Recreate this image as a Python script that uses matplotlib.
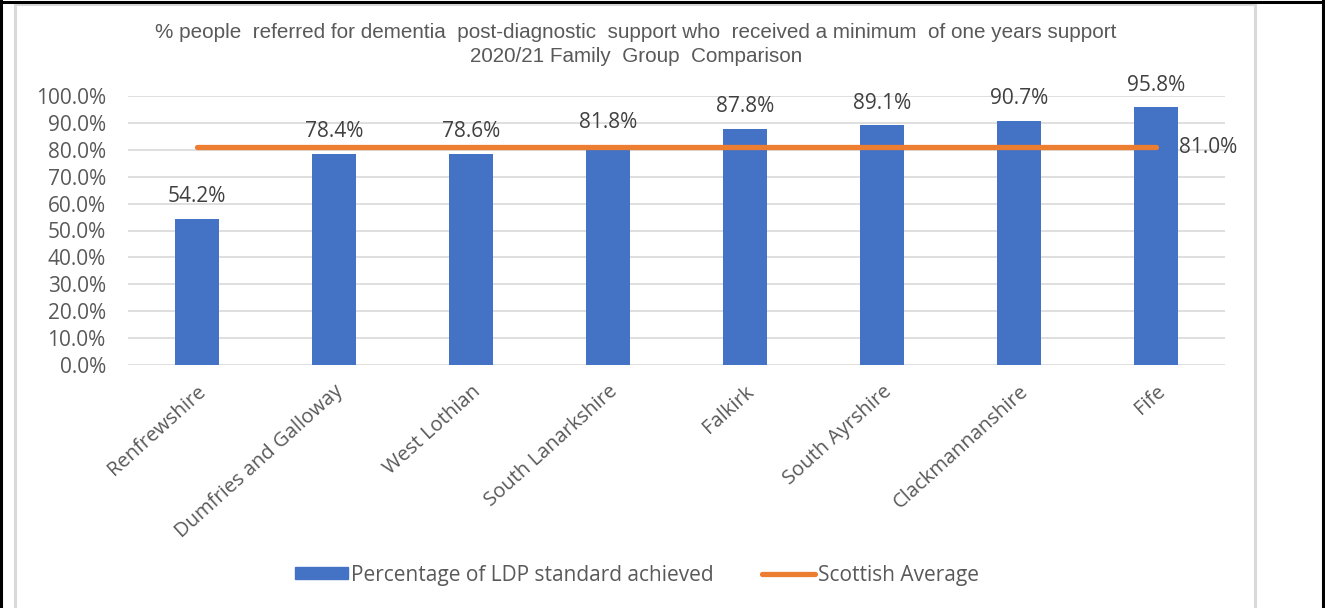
import matplotlib.pyplot as plt
from matplotlib.lines import Line2D
from matplotlib.patches import Patch

# Family group comparison, dementia post-diagnostic support 2020/21
areas = ["Renfrewshire", "Dumfries and Galloway", "West Lothian", "South Lanarkshire",
         "Falkirk", "South Ayrshire", "Clackmannanshire", "Fife"]
pct_achieved = [54.2, 78.4, 78.6, 81.8, 87.8, 89.1, 90.7, 95.8]
scottish_avg = 81.0
y_ticks = [0, 10, 20, 30, 40, 50, 60, 70, 80, 90, 100]

BLUE = "#4472C4"
ORANGE = "#ED7D31"
GRID = "#D9D9D9"
TEXT = "#595959"
LABEL = "#404040"
BODY_FONT = ["Open Sans", "DejaVu Sans"]
TITLE_FONT = ["Liberation Sans", "DejaVu Sans"]
FS = 15

W, H = 1325, 608
fig = plt.figure(figsize=(W / 100, H / 100), dpi=100)
ax = fig.add_axes([128 / W, 1 - 365 / H, (1225 - 128) / W, (365 - 96) / H])

x = list(range(len(areas)))
ax.bar(x, pct_achieved, width=0.32, color=BLUE, zorder=2)
ax.plot([x[0], x[-1]], [scottish_avg] * 2, color=ORANGE, lw=3.8,
        solid_capstyle="round", zorder=3)

for xi, v in zip(x, pct_achieved):
    ax.annotate(f"{v:.1f}%", (xi, v), xytext=(0, 16), textcoords="offset points",
                ha="center", va="center", fontsize=FS, color=LABEL, family=BODY_FONT)
ax.annotate(f"{scottish_avg:.1f}%", (x[-1], scottish_avg), xytext=(16, 0),
            textcoords="offset points", ha="left", va="center",
            fontsize=FS, color=LABEL, family=BODY_FONT, zorder=4)

ax.set_xlim(-0.5, len(areas) - 0.5)
ax.set_ylim(0, 100)
ax.set_yticks(y_ticks)
ax.set_yticklabels([f"{t:.1f}%" for t in y_ticks], family=BODY_FONT, fontsize=FS, color=TEXT)
ax.set_xticks(x)
ax.set_xticklabels(areas, rotation=42, ha="right", rotation_mode="anchor",
                   family=BODY_FONT, fontsize=14.5, color=TEXT)
ax.tick_params(axis="both", length=0)
ax.tick_params(axis="y", pad=16)
ax.tick_params(axis="x", pad=12)
ax.yaxis.grid(True, color=GRID, lw=1.2, zorder=0)
ax.set_axisbelow(True)
for s in ax.spines.values():
    s.set_visible(False)

fig.text(636 / W, 1 - 33 / H,
         "% people  referred for dementia  post-diagnostic  support who  received a minimum  of one years support",
         ha="center", va="center", fontsize=14.9, color=TEXT, family=TITLE_FONT)
fig.text(636 / W, 1 - 56 / H, "2020/21 Family  Group  Comparison",
         ha="center", va="center", fontsize=14.9, color=TEXT, family=TITLE_FONT)

handles = [Patch(facecolor=BLUE, edgecolor=BLUE),
           Line2D([], [], color=ORANGE, lw=3.8, solid_capstyle="round")]
fig.legend(handles, ["Percentage of LDP standard achieved", "Scottish Average"],
           loc="center", bbox_to_anchor=(637 / W, 1 - 575 / H), ncol=2, frameon=False,
           prop={"family": BODY_FONT, "size": FS}, labelcolor=TEXT,
           handlelength=2.55, handleheight=0.5, handletextpad=0.15, columnspacing=2.3)

# chart area border (grey) and page frame (black)
fig.add_artist(Line2D([15 / W, 15 / W], [0, 1 - 4 / H], color=GRID, lw=2.2))
fig.add_artist(Line2D([1255 / W, 1255 / W], [0, 1 - 4 / H], color=GRID, lw=2.2))
fig.add_artist(Line2D([15 / W, 1255 / W], [1 - 4 / H, 1 - 4 / H], color=GRID, lw=2.2))
fig.add_artist(Line2D([0, 1], [1 - 1.5 / H, 1 - 1.5 / H], color="black", lw=2.2))
fig.add_artist(Line2D([1 / W, 1 / W], [0, 1], color="black", lw=2.2))
fig.add_artist(Line2D([1323 / W, 1323 / W], [0, 1], color="black", lw=2.2))

fig.savefig("out.png", dpi=100)
